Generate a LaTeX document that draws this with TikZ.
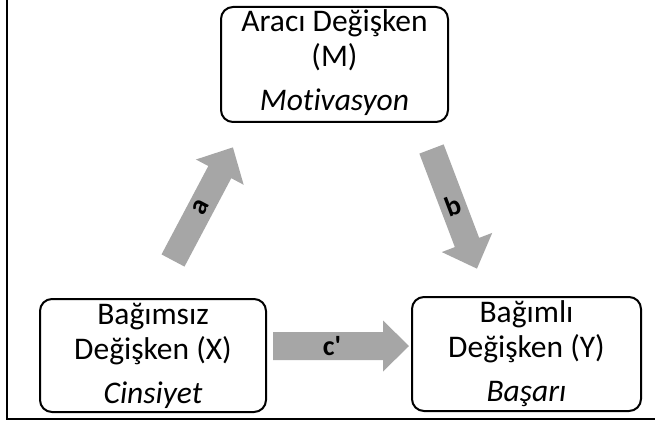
\documentclass[tikz,border=0pt]{standalone}
\usepackage{fontspec}
\setmainfont[Ligatures={NoCommon}]{Carlito}
\usetikzlibrary{calc}
\definecolor{arrowgray}{HTML}{A6A6A6}
\begin{document}
\begin{tikzpicture}[x=1pt,y=1pt,
  frame/.style={draw=black, line width=1.5pt},
  varbox/.style={draw=black, line width=2pt, rounded corners=12pt, inner sep=0pt},
  lbl/.style={anchor=base, inner sep=0pt, font=\fontsize{31.5}{37}\selectfont},
  arrowfill/.style={fill=arrowgray},
  arrowlbl/.style={inner sep=0pt, font=\fontsize{28}{32}\selectfont\bfseries}]

\useasboundingbox (0,0) rectangle (655,429);

% outer frame (left and bottom edges)
\coordinate (frameTop) at (7,431);
\coordinate (frameCorner) at (7,10);
\coordinate (frameEnd) at (657,10);
\draw[frame] (frameTop) -- (frameCorner) -- (frameEnd);

% mediator
\node[varbox, minimum width=227pt, minimum height=115pt] (M) at (334.5,364.5) {};
\node[lbl] (M1) at ($(M.north)+(0,-26)$) {Aracı Değişken};
\node[lbl] (M2) at ($(M.north)+(0,-61)$) {(M)};
\node[lbl] (M3) at ($(M.north)+(0,-105)$) {\itshape Motivasyon};

% independent variable
\node[varbox, minimum width=226pt, minimum height=113pt] (X) at (153,73.5) {};
\node[lbl] (X1) at ($(X.north)+(0,-26)$) {Bağımsız};
\node[lbl] (X2) at ($(X.north)+(0,-61)$) {Değişken (X)};
\node[lbl] (X3) at ($(X.north)+(0,-105)$) {\itshape Cinsiyet};

% dependent variable
\node[varbox, minimum width=229pt, minimum height=114pt] (Y) at (526.5,75) {};
\node[lbl] (Y1) at ($(Y.north)+(0,-26)$) {Bağımlı};
\node[lbl] (Y2) at ($(Y.north)+(0,-61)$) {Değişken (Y)};
\node[lbl] (Y3) at ($(Y.north)+(0,-105)$) {\itshape Başarı};

% path a: X -> M
\coordinate (aTail) at (173,168.5);
\fill[arrowfill, shift={(aTail)}, rotate=62.1]
  (0,-13) -- (100,-13) -- (100,-27) -- (128,0) -- (100,27) -- (100,13) -- (0,13) -- cycle;
\node[arrowlbl, rotate=62.1] (la) at ($(aTail)+(62.1:60)$) {a};

% path b: M -> Y
\coordinate (bTail) at (431.5,280);
\fill[arrowfill, shift={(bTail)}, rotate=-69.2]
  (0,-13) -- (100,-13) -- (100,-27) -- (128,0) -- (100,27) -- (100,13) -- (0,13) -- cycle;
\node[arrowlbl, rotate=20.8] (lb) at ($(bTail)+(-69.2:61)$) {b};

% path c': X -> Y
\coordinate (cTail) at (273,83);
\fill[arrowfill, shift={(cTail)}]
  (0,-14) -- (110,-14) -- (110,-25.5) -- (136,0) -- (110,25.5) -- (110,14) -- (0,14) -- cycle;
\node[arrowlbl] (lc) at ($(cTail)+(59,0)$) {c\textquotesingle};

\end{tikzpicture}
\end{document}
